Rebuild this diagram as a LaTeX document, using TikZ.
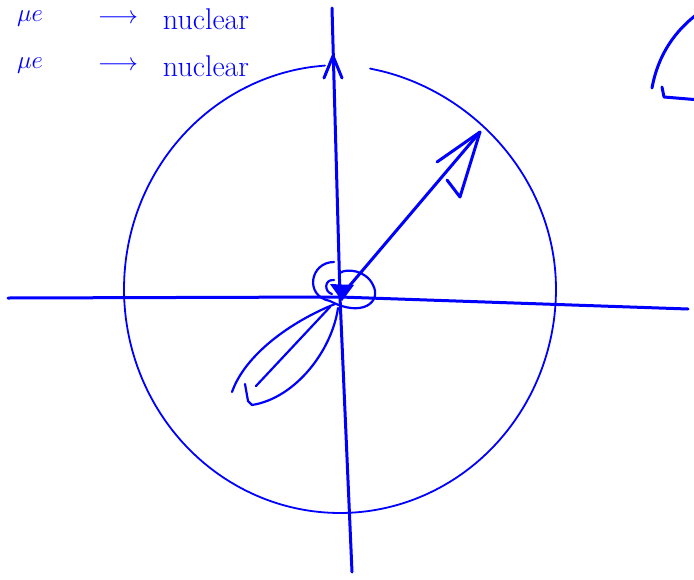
\documentclass[tikz,border=0pt]{standalone}
\begin{document}
\begin{tikzpicture}[x=1pt,y=-1pt,
    pen/.style={draw=blue,line width=2.2pt,line cap=round,line join=round},
    heavy/.style={pen,line width=3pt},
    hand/.style={text=blue,inner sep=0pt,font=\fontsize{30}{34}\selectfont}]
    \clip (0,0) rectangle (694,579);

    % notes, top left
    \foreach \y in {19,66}{
        \node[hand] (mu\y) at (30,\y) {$\mu e$};
        \node[hand] (to\y) at (118,\y) {$\longrightarrow$};
        \node[hand] (nu\y) at (206,\y) {nuclear};
    }

    % axes
    \coordinate (O) at (340,297);
    \draw[heavy] (8,298) -- (O) -- (688,309);
    \draw[heavy] (332,8) -- (O) -- (352,572);
    \draw[heavy] (324,78) -- (333,56) -- (342,78);

    % circle
    \draw[pen,line width=1.8pt] plot[smooth,samples=90,domain=-82:266]
        ({340+216*cos(\x)},{289+224*sin(\x)+10*max(0,cos(\x))*max(0,-sin(\x))});

    % vector
    \coordinate (tip) at (480,132);
    \draw[heavy] (O) -- (tip);
    \draw[heavy] (437,162) -- (tip) -- (460,197) -- (447,180);

    % curl round the origin
    \draw[pen] (334,262) .. controls (310,262) and (304,296) .. (330,301)
        .. controls (362,318) and (382,302) .. (373,285)
        .. controls (366,270) and (346,268) .. (340,273);
    \draw[pen] (334,280) .. controls (324,279) and (324,292) .. (332,294);
    \fill[blue] (330,284) -- (354,285) -- (342,301) -- cycle;

    % lobe
    \draw[pen] (335,304) .. controls (290,322) and (245,355) .. (232,392);
    \draw[pen] (245,384) -- (248,401) -- (252,405)
        .. controls (296,398) and (332,350) .. (338,308);
    \draw[pen] (256,386) -- (330,307);

    % top right
    \draw[heavy] (652,88) .. controls (658,55) and (675,30) .. (700,12);
    \draw[heavy] (662,87) -- (664,97) -- (700,100);
\end{tikzpicture}
\end{document}
